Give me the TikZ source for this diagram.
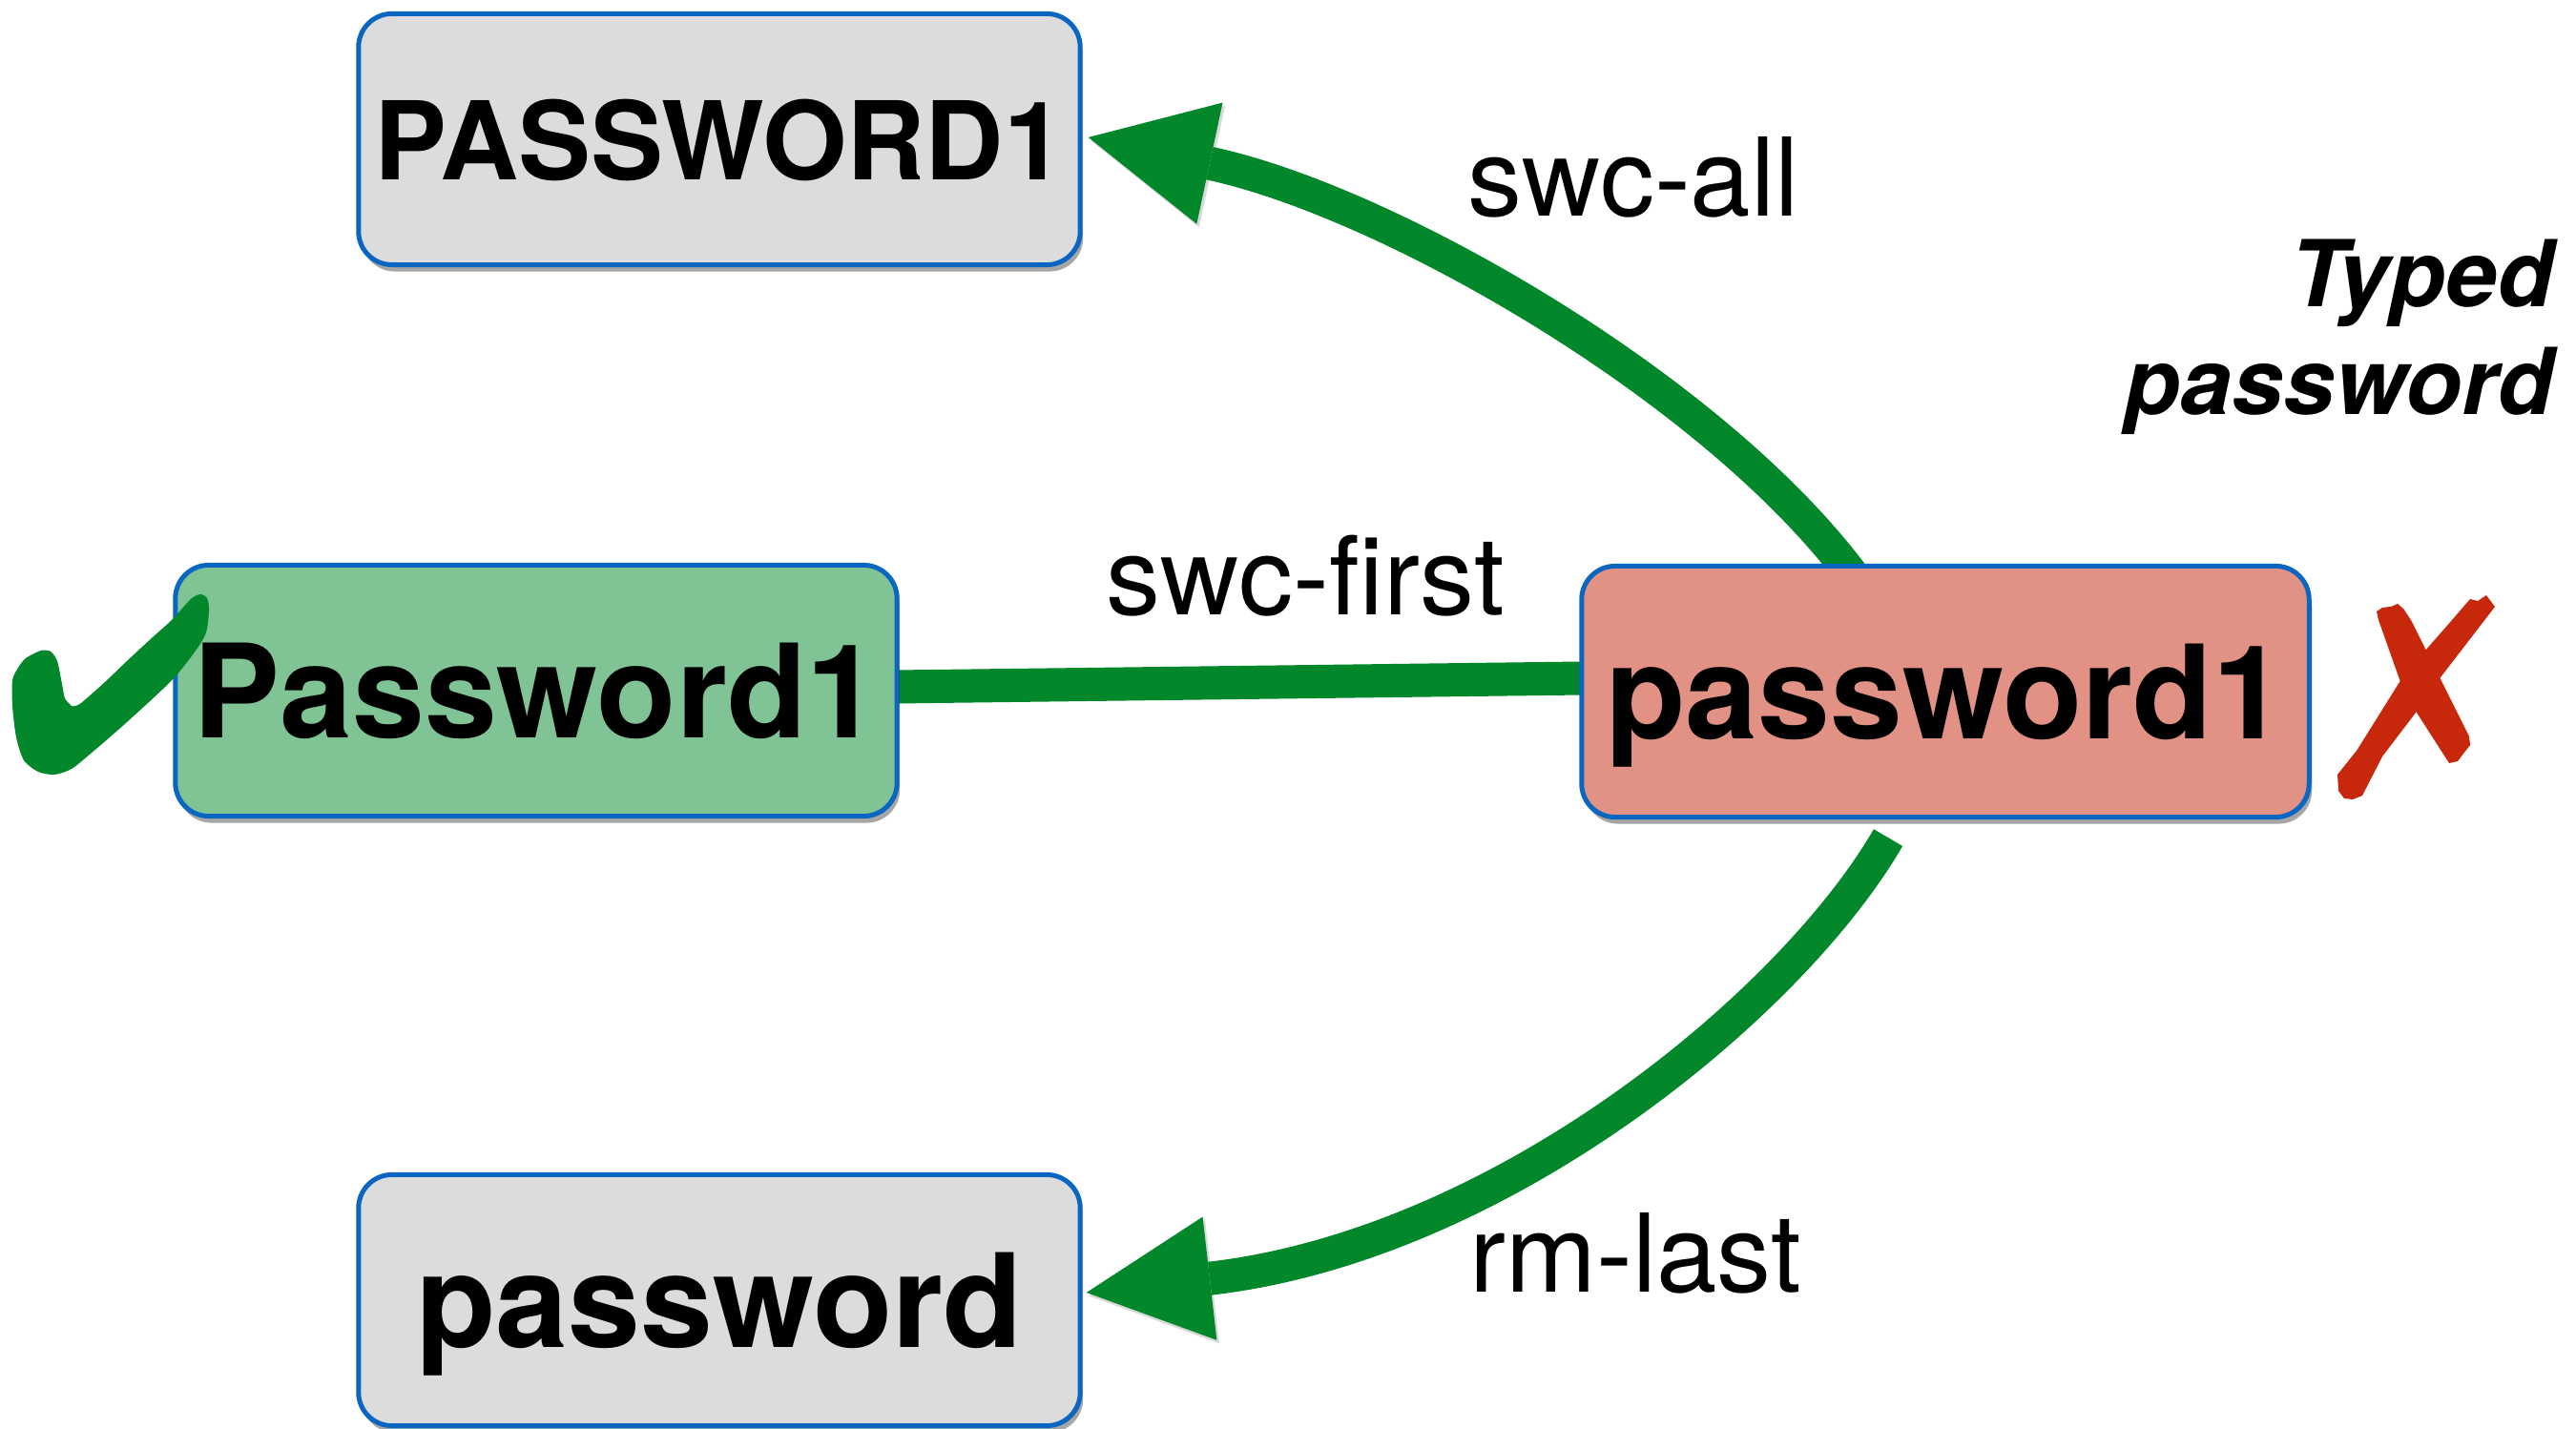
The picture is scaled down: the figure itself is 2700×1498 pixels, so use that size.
\documentclass[tikz,border=0pt]{standalone}
\usepackage{fontspec}
\setmainfont{TeX Gyre Heros}
\usetikzlibrary{arrows.meta,shadows,calc}
\definecolor{boxblue}{RGB}{10,102,192}
\definecolor{boxgray}{RGB}{220,220,220}
\definecolor{boxgreen}{RGB}{128,196,149}
\definecolor{boxred}{RGB}{226,146,132}
\definecolor{flowgreen}{RGB}{3,135,43}
\definecolor{crossred}{RGB}{199,39,10}
\pgfdeclarelayer{background}
\pgfsetlayers{background,main}
\tikzset{
  pwbox/.style={draw=boxblue, line width=0.05cm, rounded corners=0.35cm,
    minimum width=7.56cm, minimum height=2.63cm, inner sep=0pt, text depth=0pt,
    font=\bfseries\fontsize{38.8}{40}\selectfont,
    drop shadow={shadow xshift=0.03cm, shadow yshift=-0.07cm, opacity=0.35, fill=black}},
  rulelabel/.style={font=\fontsize{32.4}{34}\selectfont, inner sep=0pt, anchor=base},
  flow/.style={draw=flowgreen, line width=0.35cm,
    preaction={draw=black!60, opacity=0.25,
      transform canvas={xshift=0.025cm, yshift=-0.035cm}}},
  flowtip/.style={-{Triangle[length=1.3cm, width=1.3cm, line width=0pt]}},
}
\begin{document}
\begin{tikzpicture}[x=0.01cm, y=-0.01cm]
\useasboundingbox (0,0) rectangle (2700,1498);

% password boxes
\node[pwbox, fill=boxgray] (upper) at (754,146) {\fontsize{32.4}{34}\selectfont PASSWORD1};
\node[pwbox, fill=boxgreen] (fixed) at (562,724) {Password1};
\node[pwbox, fill=boxred, minimum width=7.62cm] (typed) at (2039,725) {password1};
\node[pwbox, fill=boxgray] (lower) at (754,1363) {password};

% rule labels
\node[rulelabel] (swcall) at (1712,227) {swc-all};
\node[rulelabel] (swcfirst) at (1368,645) {swc-first};
\node[rulelabel] (rmlast) at (1714,1354) {rm-last};

% caption
\node[font=\bfseries\itshape\fontsize{27.5}{32.4}\selectfont, align=right,
      anchor=base east, inner sep=0pt] (caption) at (2677,435) {Typed\\password};

% connectors behind the boxes
\begin{pgfonlayer}{background}
\draw[flow] ($(fixed.east)+(-4,-4)$) -- ($(typed.west)+(4,-14)$);
\draw[flow, flowtip] ($(typed.north)+(-96,14)$)
  .. controls (1795,406) and (1454,211) .. ($(upper.east)+(6,-2)$);
\draw[flow, flowtip] ($(typed.south)+(-60,19)$)
  .. controls (1879,1051) and (1575,1305) .. ($(lower.east)+(4,-8)$);
\end{pgfonlayer}

% check mark
\fill[flowgreen] plot[smooth cycle, tension=0.45] coordinates {
  (200,628) (210,623) (217,627) (219,640) (214,668) (183,710)
  (133,757) (95,790) (75,806) (57,812) (40,809) (25,797) (17,773)
  (13,740) (13,713) (19,700) (27,690) (43,682) (53,683) (60,693)
  (65,717) (68,732) (75,740) (78,740) (85,737) (110,715) (133,693)
  (160,668) (180,650)};

% cross mark
\fill[crossred] (2491,641) -- (2497,637) -- (2506,636) -- (2513,633) -- (2519,638)
  -- (2527,650) -- (2588,772) -- (2589,781) -- (2582,790) -- (2576,798)
  -- (2567,800) -- (2533,747) -- (2516,715) -- (2493,650) -- cycle;
\fill[crossred] (2589,628) -- (2597,630) -- (2606,624) -- (2615,636)
  -- (2558,710) -- (2532,747) -- (2497,793) -- (2476,834) -- (2466,838)
  -- (2457,837) -- (2451,829) -- (2450,812) -- (2470,787) -- (2515,715)
  -- (2542,682) -- (2570,650) -- cycle;
\end{tikzpicture}
\end{document}
